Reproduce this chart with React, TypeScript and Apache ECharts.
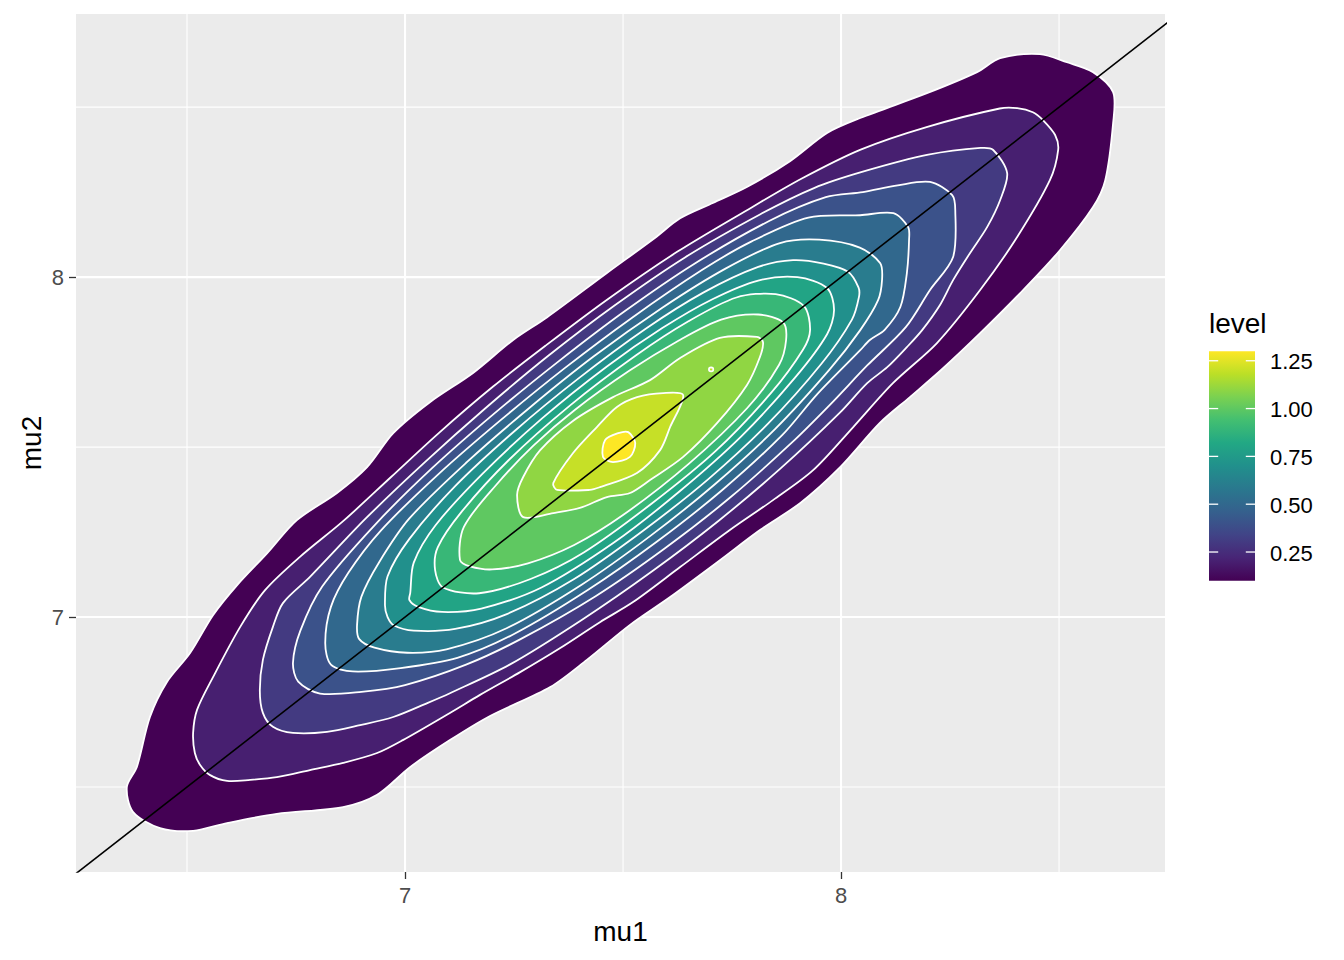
import React, { useEffect, useRef } from "react";
import * as echarts from "echarts";

// ---------- data ----------
const xRange = [6.2454, 8.743];
const yRange = [6.25, 8.774];
const xBreaks = [7, 8];
const yBreaks = [7, 8];
const xMinorBreaks = [6.5, 7.5, 8.5];
const yMinorBreaks = [6.5, 7.5, 8.5];
const legendBreaks = [0.25, 0.5, 0.75, 1.0, 1.25];
const legendLimits = [0.1, 1.3];
const ablineEnds = [6.0, 9.0];
const viridis = ["#440154", "#482576", "#414487", "#35608D", "#2A788E", "#21908C", "#22A884", "#43BF71", "#7AD151", "#BBDF27", "#FDE725"];

// density contour polygons [mu1, mu2]
const level01 = [[6.362,6.5],[6.385,6.559],[6.415,6.706],[6.454,6.809],[6.507,6.894],[6.56,7.006],[6.615,7.094],[6.684,7.188],[6.752,7.285],[6.844,7.365],[6.913,7.441],[6.973,7.541],[7.057,7.632],[7.156,7.718],[7.248,7.815],[7.326,7.882],[7.463,8.012],[7.573,8.115],[7.631,8.173],[7.706,8.218],[7.784,8.265],[7.883,8.341],[7.968,8.424],[8.044,8.468],[8.197,8.541],[8.312,8.603],[8.365,8.644],[8.456,8.656],[8.518,8.632],[8.578,8.603],[8.624,8.544],[8.624,8.453],[8.606,8.285],[8.578,8.206],[8.502,8.079],[8.411,7.953],[8.319,7.835],[8.234,7.732],[8.158,7.647],[8.089,7.571],[7.998,7.441],[7.906,7.335],[7.814,7.256],[7.723,7.168],[7.608,7.059],[7.516,6.977],[7.417,6.874],[7.333,6.794],[7.195,6.709],[7.103,6.638],[7.012,6.559],[6.936,6.477],[6.858,6.441],[6.706,6.421],[6.592,6.394],[6.514,6.371],[6.438,6.379],[6.376,6.427]];
const level02 = [[6.518,6.6],[6.514,6.659],[6.523,6.727],[6.56,6.824],[6.622,6.971],[6.679,7.079],[6.759,7.177],[6.858,7.282],[6.968,7.412],[7.078,7.542],[7.202,7.678],[7.322,7.798],[7.465,7.935],[7.625,8.075],[7.795,8.205],[7.91,8.29],[8.045,8.375],[8.198,8.442],[8.364,8.496],[8.404,8.497],[8.44,8.485],[8.463,8.462],[8.491,8.418],[8.498,8.374],[8.479,8.285],[8.404,8.118],[8.319,7.962],[8.22,7.806],[8.119,7.688],[8.028,7.559],[7.936,7.432],[7.844,7.344],[7.745,7.256],[7.631,7.147],[7.523,7.044],[7.447,6.985],[7.356,6.909],[7.264,6.838],[7.172,6.771],[7.103,6.718],[6.995,6.638],[6.936,6.6],[6.858,6.571],[6.782,6.55],[6.706,6.529],[6.645,6.521],[6.592,6.518],[6.553,6.535],[6.53,6.565]];
const level03 = [[6.697,6.677],[6.674,6.718],[6.667,6.785],[6.674,6.874],[6.697,6.971],[6.72,7.041],[6.782,7.118],[6.91,7.29],[7.045,7.455],[7.185,7.615],[7.33,7.77],[7.482,7.918],[7.642,8.058],[7.815,8.185],[7.938,8.262],[8.05,8.31],[8.2,8.36],[8.32,8.38],[8.349,8.374],[8.381,8.306],[8.365,8.227],[8.335,8.147],[8.296,8.071],[8.257,7.991],[8.227,7.918],[8.186,7.844],[8.151,7.794],[8.106,7.735],[8.06,7.688],[7.998,7.602],[7.862,7.438],[7.718,7.282],[7.566,7.134],[7.407,6.993],[7.24,6.86],[7.103,6.776],[7.051,6.747],[6.973,6.706],[6.897,6.682],[6.821,6.662],[6.743,6.659]];
const level04 = [[6.805,6.775],[6.755,6.81],[6.743,6.865],[6.76,6.96],[6.81,7.09],[6.93,7.27],[7.062,7.438],[7.203,7.597],[7.35,7.75],[7.502,7.898],[7.662,8.038],[7.835,8.165],[7.965,8.235],[8.05,8.25],[8.13,8.27],[8.204,8.28],[8.255,8.241],[8.262,8.197],[8.257,8.059],[8.204,7.962],[8.148,7.852],[8.06,7.74],[7.975,7.625],[7.887,7.513],[7.747,7.353],[7.597,7.203],[7.438,7.062],[7.265,6.935],[7.14,6.86],[7.0,6.8],[6.9,6.78]];
const level05 = [[6.88,6.84],[6.83,6.86],[6.817,6.924],[6.83,7.03],[6.87,7.13],[6.945,7.255],[7.078,7.422],[7.22,7.58],[7.367,7.733],[7.52,7.88],[7.68,8.02],[7.795,8.105],[7.925,8.175],[8.044,8.182],[8.12,8.188],[8.154,8.147],[8.156,8.109],[8.151,8.012],[8.136,7.912],[8.1,7.845],[8.066,7.815],[8.044,7.785],[7.945,7.655],[7.865,7.535],[7.727,7.373],[7.578,7.222],[7.42,7.08],[7.25,6.95],[7.12,6.88],[6.99,6.85]];
const level06 = [[6.93,6.91],[6.895,6.935],[6.89,6.977],[6.9,7.06],[6.94,7.16],[7.01,7.29],[7.143,7.457],[7.285,7.615],[7.433,7.767],[7.59,7.91],[7.735,8.025],[7.86,8.1],[7.95,8.11],[8.043,8.087],[8.09,8.041],[8.094,7.991],[8.085,7.932],[8.044,7.844],[7.973,7.727],[7.848,7.552],[7.71,7.39],[7.562,7.238],[7.405,7.095],[7.233,6.967],[7.095,6.905],[7.005,6.895]];
const level07 = [[6.975,6.975],[6.96,7.0],[6.954,7.035],[6.96,7.12],[7.01,7.23],[7.115,7.385],[7.252,7.548],[7.398,7.702],[7.552,7.848],[7.685,7.955],[7.81,8.03],[7.89,8.05],[7.96,8.04],[8.016,8.016],[8.04,7.97],[8.041,7.941],[8.025,7.875],[7.955,7.745],[7.832,7.568],[7.695,7.405],[7.546,7.254],[7.388,7.112],[7.232,7.008],[7.115,6.965],[7.02,6.96]];
const level08 = [[7.03,7.03],[7.01,7.05],[7.012,7.071],[7.02,7.16],[7.07,7.27],[7.178,7.422],[7.315,7.585],[7.463,7.737],[7.59,7.85],[7.705,7.935],[7.81,7.99],[7.9,8.0],[7.968,7.968],[7.984,7.903],[7.968,7.832],[7.895,7.705],[7.77,7.53],[7.63,7.37],[7.48,7.22],[7.313,7.087],[7.175,7.025],[7.085,7.015]];
const level09 = [[7.087,7.087],[7.069,7.138],[7.075,7.205],[7.13,7.31],[7.238,7.462],[7.378,7.622],[7.53,7.77],[7.65,7.87],[7.76,7.94],[7.85,7.95],[7.915,7.915],[7.929,7.844],[7.913,7.787],[7.84,7.66],[7.712,7.488],[7.566,7.334],[7.41,7.19],[7.288,7.112],[7.17,7.07]];
const level10 = [[7.149,7.149],[7.126,7.168],[7.135,7.265],[7.21,7.39],[7.295,7.505],[7.39,7.61],[7.515,7.725],[7.627,7.813],[7.725,7.875],[7.81,7.89],[7.867,7.867],[7.874,7.815],[7.858,7.742],[7.785,7.615],[7.65,7.45],[7.5,7.3],[7.388,7.212],[7.282,7.158],[7.2,7.14]];
const level11 = [[7.257,7.359],[7.271,7.412],[7.31,7.491],[7.385,7.577],[7.477,7.647],[7.562,7.697],[7.631,7.762],[7.722,7.821],[7.807,7.824],[7.821,7.809],[7.814,7.765],[7.784,7.682],[7.716,7.571],[7.638,7.471],[7.562,7.403],[7.516,7.365],[7.463,7.353],[7.401,7.321],[7.34,7.306],[7.271,7.294]];
const level12 = [[7.34,7.394],[7.385,7.482],[7.44,7.559],[7.486,7.618],[7.532,7.647],[7.592,7.659],[7.638,7.653],[7.608,7.559],[7.585,7.491],[7.532,7.424],[7.447,7.382],[7.424,7.374],[7.349,7.374]];
const level12Dot = [[7.698,7.724],[7.706,7.724],[7.706,7.733],[7.698,7.733]];
const level13 = [[7.459,7.521],[7.489,7.541],[7.512,7.544],[7.528,7.512],[7.516,7.471],[7.477,7.456],[7.454,7.471]];

const contours = [
  { level: 0.1, pts: level01 },
  { level: 0.2, pts: level02 },
  { level: 0.3, pts: level03 },
  { level: 0.4, pts: level04 },
  { level: 0.5, pts: level05 },
  { level: 0.6, pts: level06 },
  { level: 0.7, pts: level07 },
  { level: 0.8, pts: level08 },
  { level: 0.9, pts: level09 },
  { level: 1.0, pts: level10 },
  { level: 1.1, pts: level11 },
  { level: 1.2, pts: level12 },
  { level: 1.2, pts: level12Dot },
  { level: 1.3, pts: level13 },
];

// ---------- helpers ----------
const FONT = "'Liberation Sans', Arial, Helvetica, sans-serif";

function hexToRgb(h: string) {
  const n = parseInt(h.slice(1), 16);
  return [(n >> 16) & 255, (n >> 8) & 255, n & 255];
}
function colorAt(t: number) {
  const tt = Math.max(0, Math.min(1, t)) * (viridis.length - 1);
  const i = Math.min(viridis.length - 2, Math.floor(tt));
  const f = tt - i;
  const a = hexToRgb(viridis[i]);
  const b = hexToRgb(viridis[i + 1]);
  const c = a.map((v, k) => Math.round(v + (b[k] - v) * f));
  return `rgb(${c[0]},${c[1]},${c[2]})`;
}
function levelColor(level: number) {
  return colorAt((level - legendLimits[0]) / (legendLimits[1] - legendLimits[0]));
}

export default function App() {
  const ref = useRef<HTMLDivElement>(null);

  useEffect(() => {
    if (!ref.current) return;
    const chart = echarts.init(ref.current, null, { renderer: "svg" });

    const gridLeft = 76, gridTop = 14, gridW = 1089, gridH = 858;

    const gridLines = [
      ...xMinorBreaks.map((v) => ({ dim: "x", v, w: 1.1 })),
      ...yMinorBreaks.map((v) => ({ dim: "y", v, w: 1.1 })),
      ...xBreaks.map((v) => ({ dim: "x", v, w: 2.1 })),
      ...yBreaks.map((v) => ({ dim: "y", v, w: 2.1 })),
    ];

    // legend geometry
    const barX = 1209, barW = 46, barTop = 351.2, barBottom = 580.7;
    const barH = barBottom - barTop;
    const valToBarY = (v: number) =>
      barBottom - ((v - legendLimits[0]) / (legendLimits[1] - legendLimits[0])) * barH;

    const legendGraphics: any[] = [
      {
        type: "text",
        x: barX,
        y: 323,
        style: { text: "level", fill: "#000", fontSize: 28, fontFamily: FONT, align: "left", verticalAlign: "middle" },
      },
      {
        type: "rect",
        shape: { x: barX, y: barTop, width: barW, height: barH },
        style: {
          fill: {
            type: "linear", x: 0, y: 1, x2: 0, y2: 0,
            colorStops: viridis.map((c, i) => ({ offset: i / (viridis.length - 1), color: c })),
          },
        },
      },
    ];
    legendBreaks.forEach((b) => {
      const y = valToBarY(b);
      legendGraphics.push({
        type: "line",
        shape: { x1: barX, y1: y, x2: barX + barW / 5, y2: y },
        style: { stroke: "#ffffff", lineWidth: 1.3 },
      });
      legendGraphics.push({
        type: "line",
        shape: { x1: barX + barW - barW / 5, y1: y, x2: barX + barW, y2: y },
        style: { stroke: "#ffffff", lineWidth: 1.3 },
      });
      legendGraphics.push({
        type: "text",
        x: 1270,
        y: y + 1,
        style: { text: b.toFixed(2), fill: "#000", fontSize: 22, fontFamily: FONT, align: "left", verticalAlign: "middle" },
      });
    });

    const option: any = {
      animation: false,
      backgroundColor: "#ffffff",
      textStyle: { fontFamily: FONT },
      grid: {
        left: gridLeft, top: gridTop, width: gridW, height: gridH,
        show: true, backgroundColor: "#EBEBEB", borderWidth: 0, containLabel: false,
      },
      xAxis: {
        type: "value", min: xRange[0], max: xRange[1],
        axisLine: { show: false },
        splitLine: { show: false },
        minorTick: { show: false },
        axisTick: { show: true, length: 7, lineStyle: { color: "#333333", width: 1.3 }, customValues: xBreaks },
        axisLabel: { show: true, customValues: xBreaks, color: "#4D4D4D", fontSize: 22, margin: 12, fontFamily: FONT, formatter: (v: number) => String(v) },
      },
      yAxis: {
        type: "value", min: yRange[0], max: yRange[1],
        axisLine: { show: false },
        splitLine: { show: false },
        minorTick: { show: false },
        axisTick: { show: true, length: 7, lineStyle: { color: "#333333", width: 1.3 }, customValues: yBreaks },
        axisLabel: { show: true, customValues: yBreaks, color: "#4D4D4D", fontSize: 22, margin: 12, fontFamily: FONT, formatter: (v: number) => String(v) },
      },
      graphic: [
        {
          type: "text", x: gridLeft + gridW / 2, y: 931,
          style: { text: "mu1", fill: "#000", fontSize: 28, fontFamily: FONT, align: "center", verticalAlign: "middle" },
        },
        {
          type: "text", x: 31, y: gridTop + gridH / 2, rotation: Math.PI / 2,
          style: { text: "mu2", fill: "#000", fontSize: 28, fontFamily: FONT, align: "center", verticalAlign: "middle" },
        },
        ...legendGraphics,
      ],
      series: [
        {
          type: "custom",
          coordinateSystem: "cartesian2d",
          silent: true,
          z: 1,
          data: gridLines.map((g) => (g.dim === "x" ? [g.v, yRange[0]] : [xRange[0], g.v])),
          renderItem: (params: any, api: any) => {
            const g = gridLines[params.dataIndex];
            const p1 = g.dim === "x" ? api.coord([g.v, yRange[0]]) : api.coord([xRange[0], g.v]);
            const p2 = g.dim === "x" ? api.coord([g.v, yRange[1]]) : api.coord([xRange[1], g.v]);
            return {
              type: "line",
              shape: { x1: p1[0], y1: p1[1], x2: p2[0], y2: p2[1] },
              style: { stroke: "#ffffff", lineWidth: g.w },
            };
          },
        },
        {
          type: "custom",
          coordinateSystem: "cartesian2d",
          silent: true,
          clip: true,
          z: 2,
          data: contours.map((c) => c.pts[0]),
          renderItem: (params: any, api: any) => {
            const c = contours[params.dataIndex];
            return {
              type: "polygon",
              shape: { points: c.pts.map((p) => api.coord(p)), smooth: 0.3 },
              style: { fill: levelColor(c.level), stroke: "#ffffff", lineWidth: 1.8 },
            };
          },
        },
        {
          type: "line",
          silent: true,
          z: 3,
          showSymbol: false,
          clip: true,
          data: ablineEnds.map((v) => [v, v]),
          lineStyle: { color: "#000000", width: 1.6 },
        },
      ],
    };

    chart.setOption(option);
    return () => chart.dispose();
  }, []);

  return (
    <div
      ref={ref}
      style={{ position: "fixed", left: 0, top: 0, width: 1344, height: 960, background: "#fff" }}
    />
  );
}
